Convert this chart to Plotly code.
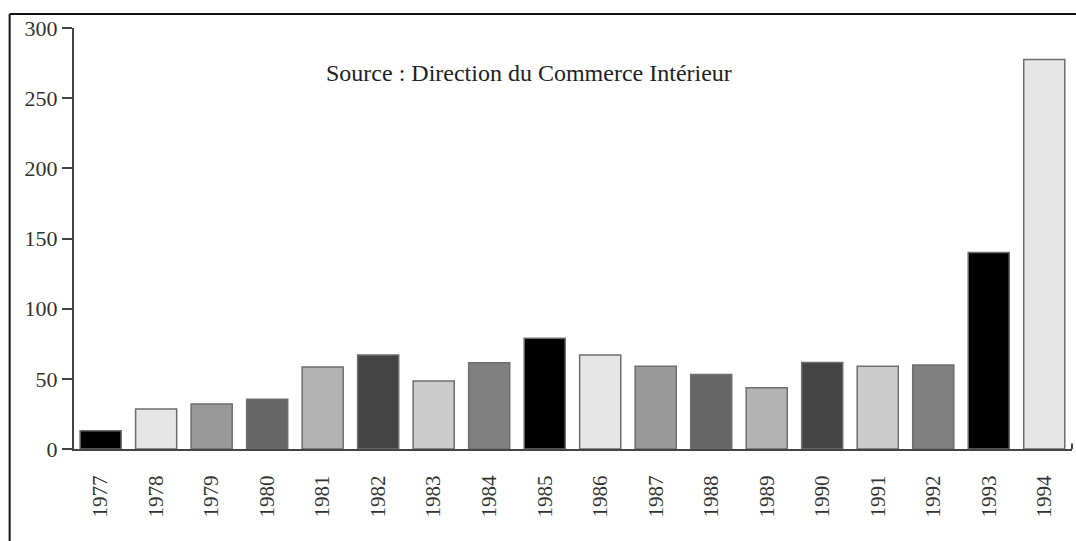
import plotly.graph_objects as go

years = ["1977", "1978", "1979", "1980", "1981", "1982", "1983", "1984", "1985",
         "1986", "1987", "1988", "1989", "1990", "1991", "1992", "1993", "1994"]
values = [13, 28.5, 32, 35.5, 58.5, 67, 48.5, 61.5, 79,
          67, 59, 53, 43.7, 61.7, 59, 59.8, 140, 277.5]
y_ticks = [0, 50, 100, 150, 200, 250, 300]
source_text = "Source : Direction du Commerce Intérieur"

palette = ["#000000", "#e6e6e6", "#999999", "#666666",
           "#b3b3b3", "#444444", "#cccccc", "#808080"]
bar_colors = [palette[i % len(palette)] for i in range(len(years))]

FONT = "Liberation Serif, Times New Roman, serif"

fig = go.Figure()
fig.add_trace(go.Bar(
    x=years, y=values,
    marker=dict(color=bar_colors, line=dict(color="#6e6e6e", width=1.5)),
    width=0.74,
    showlegend=False,
    hoverinfo="x+y",
))

fig.update_layout(
    width=1076, height=541,
    margin=dict(l=74, r=4, t=28, b=92, autoexpand=False),
    paper_bgcolor="white", plot_bgcolor="white",
    font=dict(family=FONT, size=20, color="#333333"),
    xaxis=dict(
        type="category",
        range=[-0.48, 17.5],
        automargin=False,
        showgrid=False, zeroline=False,
        showline=True, linecolor="#444444", linewidth=2,
        ticks="", tickangle=-90,
        ticklabelstandoff=16,
        tickfont=dict(family=FONT, size=21, color="#333333"),
    ),
    yaxis=dict(
        range=[0, 300],
        tickvals=y_ticks,
        automargin=False,
        showgrid=False, zeroline=False,
        showline=True, linecolor="#444444", linewidth=2,
        ticks="outside", ticklen=10, tickwidth=2, tickcolor="#444444",
        tickfont=dict(family=FONT, size=22, color="#333333"),
    ),
    shapes=[
        # outer frame: top and left edges
        dict(type="line", xref="paper", yref="paper",
             x0=-0.0645, x1=1.01, y0=1.0333, y1=1.0333,
             line=dict(color="#111111", width=2)),
        dict(type="line", xref="paper", yref="paper",
             x0=-0.0645, x1=-0.0645, y0=1.0333, y1=-0.25,
             line=dict(color="#111111", width=2)),
        # small end tick on x axis
        dict(type="line", xref="paper", yref="paper",
             x0=1, x1=1, y0=0, y1=0.013,
             line=dict(color="#444444", width=2)),
    ],
    annotations=[
        dict(text=source_text, xref="paper", yref="paper",
             x=0.456, y=0.929, showarrow=False,
             font=dict(family=FONT, size=24, color="#222222")),
    ],
)

fig.write_html(
    "out.html",
    config={"displayModeBar": False},
    post_script="document.body.style.margin='0';document.body.style.overflow='hidden';",
)
